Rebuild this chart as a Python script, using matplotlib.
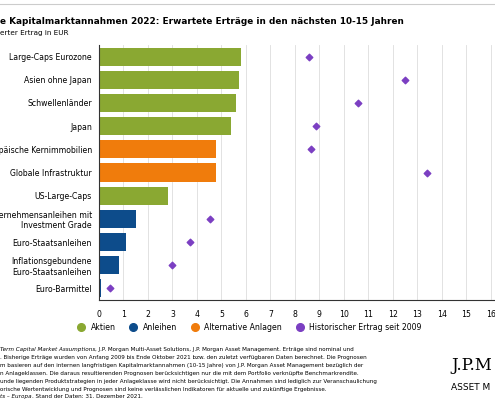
import matplotlib.pyplot as plt
from matplotlib.lines import Line2D

labels = ["Large-Caps Eurozone", "Asien ohne Japan", "Schwellenländer", "Japan",
          "Europäische Kernimmobilien", "Globale Infrastruktur", "US-Large-Caps",
          "Unternehmensanleihen mit\nInvestment Grade", "Euro-Staatsanleihen",
          "Inflationsgebundene\nEuro-Staatsanleihen", "Euro-Barmittel"]
expected = [5.8, 5.7, 5.6, 5.4, 4.8, 4.8, 2.8, 1.5, 1.1, 0.8, 0.1]
historic = [8.6, 12.5, 10.6, 8.85, 8.65, 13.4, None, 4.55, 3.7, 3.0, 0.45]
groups = ["Aktien"] * 4 + ["Alternative Anlagen"] * 2 + ["Aktien"] + ["Anleihen"] * 4

colors = {"Aktien": "#8aa832", "Anleihen": "#0d4c8b", "Alternative Anlagen": "#f07c0c"}
purple = "#7b3fc2"

fig = plt.figure(figsize=(4.95, 4), dpi=100)
ax = fig.add_axes([0.2, 0.25, 0.806, 0.6375])
y = list(range(len(labels)))
ax.barh(y, expected, height=0.78, color=[colors[g] for g in groups], zorder=2)
hy = [i for i, v in zip(y, historic) if v is not None]
hx = [v for v in historic if v is not None]
ax.scatter(hx, hy, marker="D", s=11, color=purple, zorder=3)
ax.set_ylim(len(labels) - 0.5, -0.5)
ax.set_xlim(0, 16.3)
ax.set_yticks(y)
ax.set_yticklabels(labels, fontsize=5.6)
ax.set_xticks(range(17))
ax.tick_params(axis="x", labelsize=5.6, length=0, pad=7)
ax.tick_params(axis="y", length=0, pad=5)
ax.grid(axis="x", color="#dddddd", lw=0.6, zorder=0)
for s in ["top", "right"]:
    ax.spines[s].set_visible(False)
ax.spines["left"].set_color("#333333")
ax.spines["bottom"].set_color("#333333")

fig.lines.append(Line2D([0, 1], [0.99, 0.99], color="#cccccc", lw=0.8, transform=fig.transFigure))
fig.text(0.0, 0.945, "e Kapitalmarktannahmen 2022: Erwartete Erträge in den nächsten 10-15 Jahren",
         fontsize=6.4, fontweight="bold", va="center")
fig.text(0.0, 0.917, "erter Ertrag in EUR", fontsize=5.2, va="center")

handles = [Line2D([], [], marker="o", ls="", ms=5.5, color=c) for c in
           [colors["Aktien"], colors["Anleihen"], colors["Alternative Anlagen"], purple]]
fig.legend(handles, ["Aktien", "Anleihen", "Alternative Anlagen", "Historischer Ertrag seit 2009"],
           loc="center", bbox_to_anchor=(0.5, 0.182), ncol=4, frameon=False, fontsize=5.6,
           handletextpad=0.2, columnspacing=1.3)

foot = [("Term Capital Market Assumptions", ", J.P. Morgan Multi-Asset Solutions, J.P. Morgan Asset Management. Erträge sind nominal und"),
        ("", ". Bisherige Erträge wurden von Anfang 2009 bis Ende Oktober 2021 bzw. den zuletzt verfügbaren Daten berechnet. Die Prognosen"),
        ("", "m basieren auf den internen langfristigen Kapitalmarktannahmen (10-15 Jahre) von J.P. Morgan Asset Management bezüglich der"),
        ("", "n Anlageklassen. Die daraus resultierenden Prognosen berücksichtigen nur die mit dem Portfolio verknüpfte Benchmarkrendite."),
        ("", "unde liegenden Produktstrategien in jeder Anlageklasse wird nicht berücksichtigt. Die Annahmen sind lediglich zur Veranschaulichung"),
        ("", "orische Wertentwicklung und Prognosen sind keine verlässlichen Indikatoren für aktuelle und zukünftige Ergebnisse."),
        ("ts – Europa", ". Stand der Daten: 31. Dezember 2021.")]
for i, (it, rest) in enumerate(foot):
    yy = 0.125 - i * 0.0195
    if it:
        t = fig.text(0.0, yy, it, fontsize=4.1, style="italic", va="center")
        fig.canvas.draw()
        bb = t.get_window_extent().transformed(fig.transFigure.inverted())
        fig.text(bb.x1, yy, rest, fontsize=4.1, va="center")
    else:
        fig.text(0.0, yy, rest, fontsize=4.1, va="center")

fig.text(0.912, 0.085, "J.P.M", fontsize=12, family="DejaVu Serif", va="center")
fig.text(0.912, 0.03, "ASSET M", fontsize=6.5, va="center")

fig.savefig("out.png", dpi=100)
